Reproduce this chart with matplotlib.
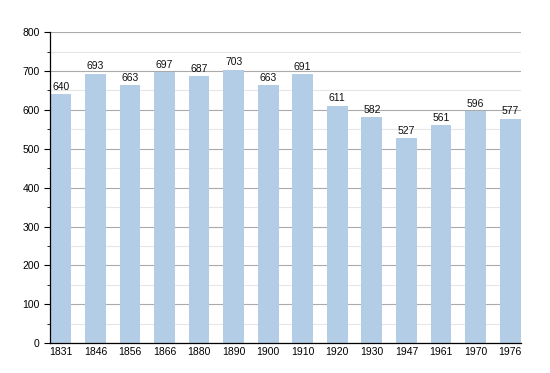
import matplotlib.pyplot as plt
import numpy as np

plt.rcParams['font.family'] = ['Liberation Sans', 'DejaVu Sans']

years = ["1831", "1846", "1856", "1866", "1880", "1890", "1900",
         "1910", "1920", "1930", "1947", "1961", "1970", "1976"]
population = [640, 693, 663, 697, 687, 703, 663, 691, 611, 582, 527, 561, 596, 577]

fig = plt.figure(figsize=(5.5, 3.73), dpi=100)
ax = fig.add_axes([0.091, 0.080, 0.856, 0.834])

x = np.arange(len(years))
ax.bar(x, population, width=0.6, color="#b3cde6", zorder=2)

for xi, v in zip(x, population):
    ax.text(xi, v + 6, str(v), ha="center", va="bottom", fontsize=7.5, color="#111111")

ax.set_xlim(-0.31, len(years) - 1 + 0.31)
ax.set_ylim(0, 800)
ax.set_yticks(np.arange(0, 801, 100))
ax.set_yticks(np.arange(50, 800, 100), minor=True)
ax.set_xticks(x)
ax.set_xticklabels(years)

ax.grid(axis="y", which="major", color="#aaaaaa", linewidth=0.8, zorder=0)
ax.grid(axis="y", which="minor", color="#e6e6e6", linewidth=0.8, zorder=0)

for s in ["top", "right"]:
    ax.spines[s].set_visible(False)
ax.spines["left"].set_linewidth(0.9)
ax.spines["bottom"].set_linewidth(0.9)
ax.tick_params(axis="x", length=0, labelsize=7.5, pad=3)
ax.tick_params(axis="y", which="major", length=4, labelsize=7.5)
ax.tick_params(axis="y", which="minor", length=2)

fig.savefig("out.png", dpi=100)
